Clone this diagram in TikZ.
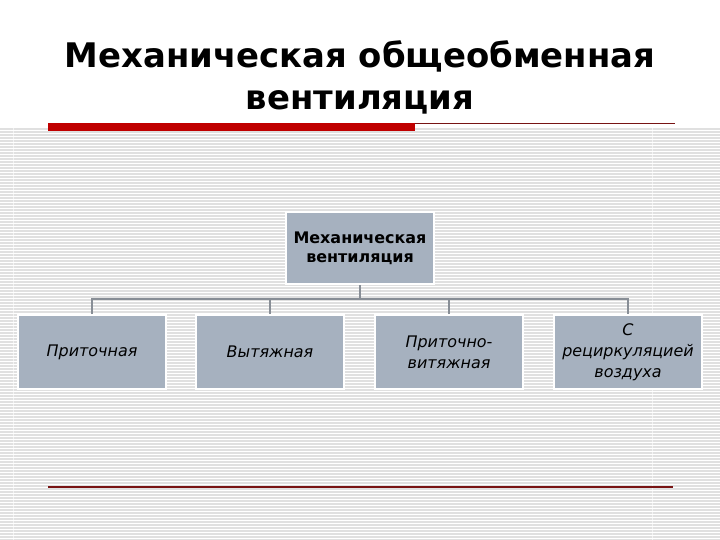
\documentclass[tikz,border=0pt]{standalone}
\usepackage{fontspec}
\setmainfont{DejaVu Sans}
\usetikzlibrary{positioning}
\definecolor{slideRed}{RGB}{192,0,0}
\definecolor{ruleRed}{RGB}{120,20,20}
\definecolor{boxGrey}{RGB}{166,177,191}
\definecolor{linkGrey}{RGB}{136,142,150}
\definecolor{stripeGrey}{RGB}{224,224,224}
\tikzset{
  kind/.style={fill=boxGrey, draw=white, line width=2bp, minimum width=148bp,
    minimum height=74bp, inner sep=0pt, text width=142bp, align=center,
    font=\fontsize{16}{21}\selectfont\itshape},
  link/.style={draw=linkGrey, line width=1.5bp},
}

\begin{document}
\begin{tikzpicture}[x=1bp, y=-1bp]
    \useasboundingbox[fill=white] (0,0) rectangle (720,540);
    \foreach \y in {129,132,...,540}
        \draw[stripeGrey, line width=1.1bp] (0,\y) -- (720,\y);
    \draw[white, opacity=0.6, line width=0.6bp] (13,128) -- (13,540);
    \draw[white, opacity=0.6, line width=0.6bp] (652,128) -- (652,540);

    \node[anchor=base, font=\fontsize{34}{42}\selectfont\bfseries] (title) at (360,68) {Механическая общеобменная};
    \node[anchor=base, font=\fontsize{34}{42}\selectfont\bfseries] (subtitle) at (360,110) {вентиляция};

    \fill[slideRed] (48,123) rectangle (415,131);
    \draw[ruleRed, line width=1bp] (415,123.5) -- (675,123.5);
    \draw[ruleRed, line width=1.4bp] (48,487) -- (673,487);

    \node[kind, minimum height=72bp, font=\fontsize{16}{19}\selectfont\bfseries] (mech) at (360,248) {Механическая\\вентиляция};

    \node[kind] (supply) at (92,352) {Приточная};
    \node[kind] (exhaust) at (270,352) {Вытяжная};
    \node[kind] (mixed) at (449,352) {Приточно-\\витяжная};
    \node[kind] (recirc) at (628,352) {С\\рециркуляцией\\воздуха};

    \coordinate (hub) at (360,299);
    \draw[link] (mech.south) -- (hub);
    \draw[link] (supply.north) |- (hub) -| (recirc.north);
    \draw[link] (exhaust.north) -- (exhaust.north |- hub);
    \draw[link] (mixed.north) -- (mixed.north |- hub);
\end{tikzpicture}
\end{document}
